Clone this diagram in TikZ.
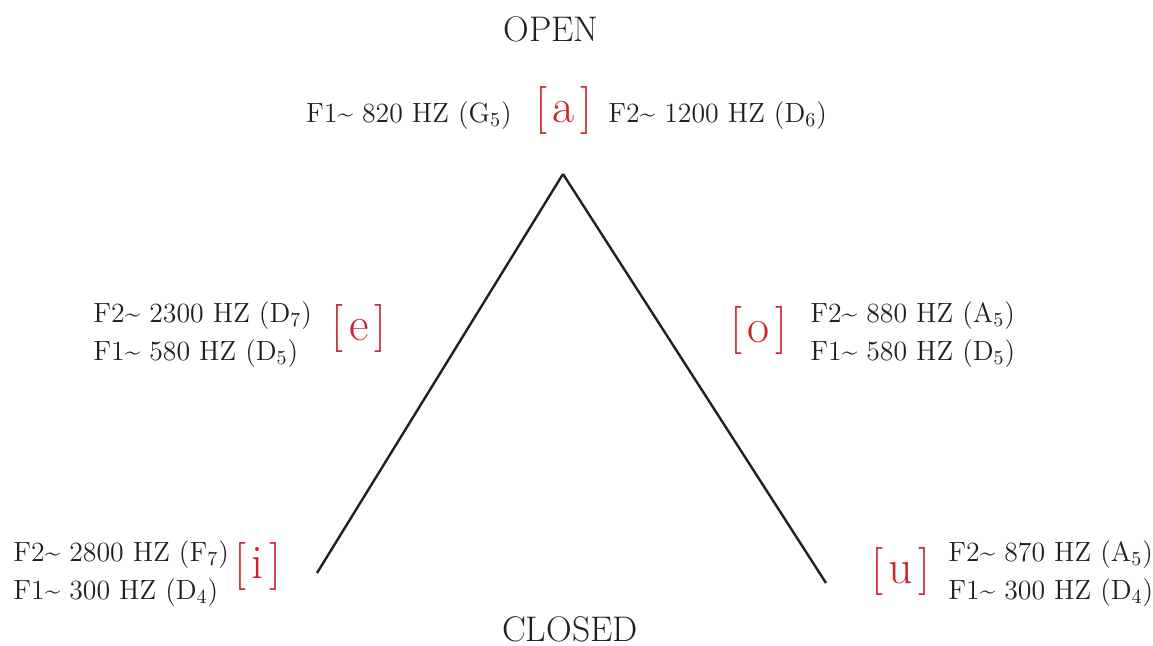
\documentclass[tikz,border=0pt]{standalone}
\usepackage{xcolor}
\usepackage{tikz}
\definecolor{ink}{RGB}{35,31,32}
\definecolor{vred}{RGB}{204,36,44}
\tikzset{
  formant/.style={font=\fontsize{13.9}{17}\selectfont,text=ink,inner sep=0pt},
  vowel/.style={font=\fontsize{24}{28}\selectfont,text=vred,inner sep=0pt},
  pole/.style={font=\fontsize{17.8}{21}\selectfont,text=ink,inner sep=0pt},
  side/.style={ink,line width=1.2pt}
}
\newcommand{\fq}[3]{F#1\textasciitilde{} #2 HZ (#3)}
\newcommand{\ipa}[1]{[\kern2.8pt#1\kern2.8pt]}

\begin{document}
\begin{tikzpicture}[x=.5pt,y=-.5pt]
\useasboundingbox (0,0) rectangle (1153,645);
\coordinate (top) at (563,174);
\coordinate (lowi) at (317,573);
\coordinate (lowu) at (826,583);
\draw[side] (lowi)--(top);
\draw[side] (top)--(lowu);
\node[pole,anchor=base] (open) at (551,41){OPEN};
\node[pole,anchor=base] (closed) at (570,641){CLOSED};
\node[vowel] (a) at (564,110){\ipa{a}};
\node[formant,anchor=base east] (a1) at (512,122){\fq{1}{820}{G$_5$}};
\node[formant,anchor=base west] (a2) at (608,122){\fq{2}{1200}{D$_6$}};
\node[vowel] (e) at (359,328){\ipa{e}};
\node[formant,anchor=base west] (e2) at (93,322){\fq{2}{2300}{D$_7$}};
\node[formant,anchor=base west] (e1) at (93,360){\fq{1}{580}{D$_5$}};
\node[vowel] (o) at (759,330){\ipa{o}};
\node[formant,anchor=base west] (o2) at (810,322){\fq{2}{880}{A$_5$}};
\node[formant,anchor=base west] (o1) at (810,360){\fq{1}{580}{D$_5$}};
\node[vowel] (i) at (258,566){\ipa{i}};
\node[formant,anchor=base west] (i2) at (13,561){\fq{2}{2800}{F$_7$}};
\node[formant,anchor=base west] (i1) at (13,599){\fq{1}{300}{D$_4$}};
\node[vowel] (u) at (901,571){\ipa{u}};
\node[formant,anchor=base west] (u2) at (948,561){\fq{2}{870}{A$_5$}};
\node[formant,anchor=base west] (u1) at (948,599){\fq{1}{300}{D$_4$}};
\end{tikzpicture}
\end{document}
